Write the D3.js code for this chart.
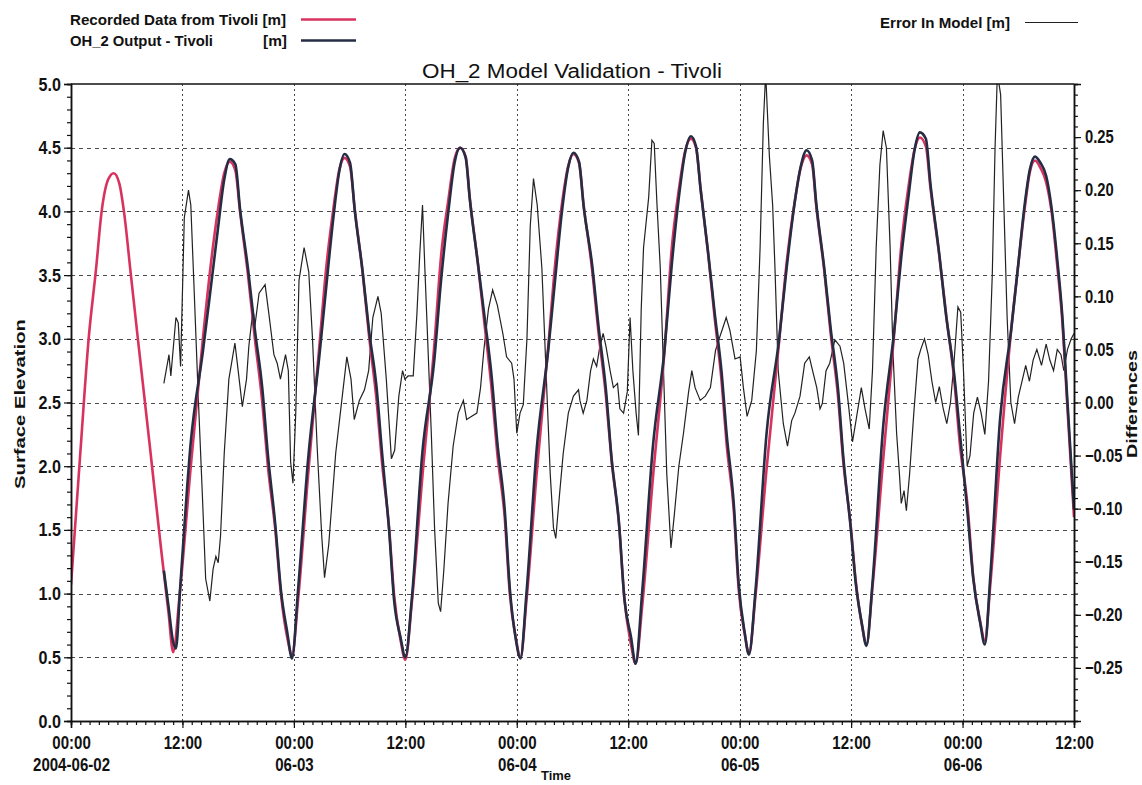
<!DOCTYPE html>
<html><head><meta charset="utf-8">
<script src="https://cdn.jsdelivr.net/npm/d3@7"></script>
<style>
html,body{margin:0;padding:0;background:#fff;}
svg{display:block;}
.nb{font-family:"Liberation Sans",Arial,sans-serif;font-weight:bold;}
</style></head><body>
<svg id="c" width="1142" height="785"></svg>
<script>
// ---------- DATA (hours since 2004-06-02 00:00) ----------
const recordedData = [
[0,1.07],[1.0,2.1],[1.9,3.0],[2.7,3.55],[3.3,4.0],[4.0,4.25],[4.6,4.30],
[5.2,4.22],[5.7,4.0],[6.45,3.5],[7.2,3.0],[8.5,2.15],[9.7,1.35],[10.5,0.85],[11.0,0.54],
[11.7,0.99],[12.9,2.0],[14.2,3.0],[15.0,3.55],[15.8,4.0],[16.5,4.3],[17.1,4.39],
[17.7,4.32],[18.2,4.0],[19.06,3.5],[19.8,3.0],[20.6,2.5],[21.2,2.0],[22.0,1.5],[22.6,1.0],[23.3,0.65],[23.8,0.52],
[24.45,0.95],[25.55,1.95],[26.75,2.95],[27.5,3.57],[28.25,4.02],[28.9,4.33],[29.45,4.42],
[30.05,4.35],[30.55,4.02],[31.4,3.52],[32.1,3.02],[32.9,2.52],[33.5,2.02],[34.25,1.52],[34.8,0.98],[35.5,0.63],[36.0,0.48],
[36.7,0.93],[37.85,1.93],[39.1,2.93],[39.85,3.65],[40.65,4.10],[41.3,4.41],[41.9,4.50],
[42.5,4.43],[42.95,4.10],[43.8,3.60],[44.55,3.10],[45.3,2.60],[45.9,2.10],[46.7,1.60],[47.25,1.00],[47.9,0.65],[48.4,0.50],
[49.05,0.95],[50.15,1.95],[51.4,2.95],[52.15,3.60],[52.85,4.05],[53.55,4.36],[54.1,4.45],
[54.7,4.38],[55.2,4.05],[56.1,3.55],[56.8,3.05],[57.6,2.55],[58.2,2.05],[59.0,1.55],[59.6,0.95],[60.3,0.60],[60.8,0.45],
[61.5,0.90],[62.65,1.90],[63.9,2.90],[64.7,3.72],[65.45,4.17],[66.15,4.48],[66.75,4.57],
[67.3,4.50],[67.8,4.17],[68.6,3.67],[69.3,3.17],[70.05,2.67],[70.6,2.17],[71.35,1.67],[71.9,1.03],[72.55,0.68],[73.0,0.53],
[73.7,0.98],[74.9,1.98],[76.25,2.98],[77.05,3.59],[77.85,4.04],[78.6,4.35],[79.2,4.44],
[79.8,4.37],[80.25,4.04],[81.1,3.54],[81.8,3.04],[82.6,2.54],[83.15,2.04],[83.95,1.54],[84.5,1.10],[85.17,0.75],[85.65,0.60],
[86.3,1.05],[87.45,2.05],[88.65,3.05],[89.4,3.73],[90.15,4.18],[90.85,4.49],[91.4,4.58],
[92.05,4.51],[92.55,4.18],[93.45,3.68],[94.25,3.18],[95.1,2.68],[95.7,2.18],[96.55,1.68],[97.15,1.13],[97.9,0.78],[98.4,0.63],
[99.0,1.08],[100.05,2.08],[101.25,3.08],[101.95,3.55],[102.65,4.00],[103.25,4.31],[103.8,4.40],
[104.4,4.34],[105.0,4.23],[105.6,3.99],[106.2,3.57],[106.7,3.18],[107.3,2.45],[108,1.6]
];
const modelData = [
[10.0,1.18],[10.5,0.90],[11.0,0.62],[11.3,0.57],[11.75,1.04],
[12.9,2.19],[14.2,2.90],[15.0,3.37],[15.8,3.85],[16.5,4.25],[17.1,4.41],
[17.7,4.37],[18.2,4.02],[19.06,3.55],[19.8,3.07],[20.6,2.61],[21.2,2.09],[22.0,1.54],[22.6,1.03],[23.3,0.69],[23.8,0.49],
[24.45,1.03],[25.55,2.07],[26.75,2.87],[27.5,3.42],[28.25,3.95],[28.9,4.32],[29.45,4.45],
[30.05,4.38],[30.55,4.01],[31.4,3.53],[32.1,3.06],[32.9,2.62],[33.5,2.10],[34.25,1.50],[34.8,0.94],[35.5,0.65],[36.0,0.50],
[36.7,0.96],[37.85,2.12],[39.1,2.82],[39.85,3.46],[40.65,4.01],[41.3,4.38],[41.9,4.50],
[42.5,4.42],[42.95,4.09],[43.8,3.60],[44.55,3.16],[45.3,2.70],[45.9,2.19],[46.7,1.66],[47.25,1.04],[47.9,0.64],[48.4,0.49],
[49.05,1.01],[50.15,2.14],[51.4,2.92],[52.15,3.48],[52.85,3.99],[53.55,4.35],[54.1,4.46],
[54.7,4.39],[55.2,4.04],[56.1,3.59],[56.8,3.10],[57.6,2.60],[58.2,2.07],[59.0,1.56],[59.6,0.95],[60.3,0.66],[60.8,0.45],
[61.5,1.01],[62.65,2.15],[63.9,2.91],[64.7,3.59],[65.45,4.11],[66.15,4.47],[66.75,4.59],
[67.3,4.51],[67.8,4.17],[68.6,3.68],[69.3,3.21],[70.05,2.74],[70.6,2.25],[71.35,1.72],[71.9,1.07],[72.55,0.69],[73.0,0.52],
[73.7,1.02],[74.9,2.26],[76.25,3.00],[77.05,3.55],[77.85,4.03],[78.6,4.36],[79.2,4.48],
[79.8,4.40],[80.25,4.06],[81.1,3.56],[81.8,3.08],[82.6,2.60],[83.15,2.08],[83.95,1.52],[84.5,1.08],[85.17,0.76],[85.65,0.59],
[86.3,1.08],[87.45,2.31],[88.65,3.07],[89.4,3.64],[90.15,4.10],[90.85,4.49],[91.4,4.62],
[92.05,4.57],[92.55,4.21],[93.45,3.69],[94.25,3.17],[95.1,2.72],[95.7,2.27],[96.55,1.62],[97.15,1.12],[97.9,0.77],[98.4,0.60],
[99.0,1.15],[100.05,2.38],[101.25,3.08],[101.95,3.55],[102.65,4.03],[103.25,4.33],[103.8,4.43],
[104.4,4.38],[105.0,4.28],[105.6,4.02],[106.2,3.62],[106.7,3.22],[107.3,2.5],[108,1.66]
];
const errorData = [
[10.0,0.018],[10.55,0.045],[10.75,0.025],[11.3,0.080],[11.55,0.075],[11.8,0.034],[12.2,0.174],[12.65,0.20],[12.9,0.186],
[13.25,0.108],[13.7,0.006],[14.15,-0.088],[14.5,-0.166],[14.95,-0.187],[15.3,-0.157],[15.6,-0.145],[15.85,-0.151],[16.1,-0.126],
[16.5,-0.048],[17.0,0.022],[17.65,0.056],[18.0,0.03],[18.45,-0.004],[18.9,0.022],[19.15,0.053],[19.6,0.088],[19.8,0.072],
[20.25,0.103],[20.9,0.111],[21.3,0.084],[21.85,0.045],[22.2,0.037],[22.55,0.022],[23.1,0.045],[23.4,0.03],[23.65,-0.056],
[23.9,-0.076],[24.2,-0.01],[24.55,0.115],[25.1,0.146],[25.6,0.123],[26.0,0.061],[26.5,-0.041],[27.0,-0.126],[27.3,-0.165],
[27.75,-0.134],[28.5,-0.048],[29.0,-0.01],[29.7,0.043],[30.15,0.022],[30.5,-0.016],[31.05,0.002],[31.6,0.012],[32.05,0.03],
[32.5,0.08],[33.05,0.10],[33.4,0.084],[33.95,0.022],[34.5,-0.053],[34.85,-0.045],[35.3,0.006],[35.7,0.03],[35.95,0.022],
[36.3,0.025],[36.85,0.025],[37.25,0.084],[37.55,0.139],[37.85,0.186],[38.1,0.127],[38.45,0.049],[38.8,-0.03],[39.15,-0.119],
[39.55,-0.189],[39.8,-0.197],[40.15,-0.157],[40.6,-0.095],[41.15,-0.041],[41.7,-0.01],[42.25,0.002],[42.6,-0.016],[43.15,-0.013],
[43.7,-0.01],[44.1,0.014],[44.45,0.049],[44.95,0.088],[45.4,0.106],[45.9,0.092],[46.5,0.065],[46.9,0.043],[47.45,0.037],
[47.7,0.022],[48.0,-0.029],[48.35,-0.01],[48.7,-0.002],[49.1,0.061],[49.45,0.166],[49.8,0.211],[50.2,0.186],[50.7,0.127],
[51.15,0.03],[51.6,-0.067],[51.95,-0.118],[52.2,-0.128],[52.6,-0.087],[53.0,-0.048],[53.55,-0.01],[54.1,0.006],[54.65,0.012],
[54.8,0.002],[55.15,-0.01],[55.55,0.002],[55.95,0.03],[56.25,0.041],[56.6,0.034],[56.95,0.053],[57.3,0.065],[57.6,0.053],
[58.05,0.03],[58.4,0.014],[58.85,0.018],[59.1,-0.006],[59.5,-0.01],[59.9,0.01],[60.2,0.08],[60.5,0.03],[60.85,-0.01],
[61.1,-0.031],[61.4,0.088],[61.65,0.146],[62.2,0.193],[62.55,0.247],[62.8,0.244],[63.1,0.186],[63.45,0.127],[63.8,0.03],
[64.15,-0.067],[64.6,-0.137],[64.95,-0.107],[65.45,-0.06],[65.95,-0.029],[66.5,0.01],[66.85,0.03],[67.2,0.014],[67.75,0.002],
[68.3,0.006],[68.85,0.014],[69.4,0.049],[69.75,0.059],[70.1,0.068],[70.55,0.08],[70.95,0.068],[71.5,0.041],[72.05,0.043],
[72.4,0.014],[72.8,-0.013],[73.3,0.002],[73.8,0.049],[74.2,0.146],[74.55,0.263],[74.8,0.31],[75.2,0.232],[75.55,0.186],
[75.8,0.127],[76.15,0.03],[76.7,-0.02],[77.15,-0.041],[77.6,-0.017],[77.95,-0.01],[78.5,0.006],[79.0,0.037],[79.5,0.043],
[79.85,0.03],[80.3,0.014],[80.65,-0.006],[80.9,-0.001],[81.3,0.03],[81.7,0.037],[82.25,0.059],[82.8,0.053],[83.2,0.037],
[83.7,-0.001],[84.15,-0.037],[84.6,-0.013],[85.1,0.014],[85.5,-0.006],[85.95,-0.025],[86.3,0.03],[86.7,0.146],[87.1,0.224],
[87.45,0.256],[87.8,0.24],[88.2,0.146],[88.5,0.049],[88.9,-0.029],[89.2,-0.067],[89.4,-0.095],[89.7,-0.083],[89.95,-0.102],
[90.3,-0.067],[90.75,-0.01],[91.2,0.041],[91.5,0.05],[91.9,0.06],[92.3,0.045],[92.7,0.02],[93.1,0.0],[93.5,0.015],
[93.9,-0.005],[94.3,-0.02],[94.7,0.0],[95.1,0.04],[95.5,0.09],[95.8,0.085],[96.1,0.03],[96.5,-0.06],[96.8,-0.05],
[97.2,-0.01],[97.6,0.005],[98.0,-0.01],[98.4,-0.03],[98.8,0.02],[99.2,0.12],[99.5,0.24],[99.75,0.31],[100.1,0.29],
[100.4,0.2],[100.8,0.08],[101.2,0.0],[101.6,-0.02],[102.0,0.005],[102.4,0.02],[102.8,0.035],[103.2,0.02],[103.6,0.04],
[104.0,0.05],[104.5,0.035],[105.0,0.055],[105.4,0.04],[105.8,0.03],[106.2,0.05],[106.6,0.045],[106.9,0.03],[107.3,0.05],
[107.7,0.06],[108.0,0.065]
];
const xTickHours = [0,12,24,36,48,60,72,84,96,108];
const xTickTimes = ["00:00","12:00","00:00","12:00","00:00","12:00","00:00","12:00","00:00","12:00"];
const xTickDates = ["2004-06-02","","06-03","","06-04","","06-05","","06-06",""];
const yLeftTicks = [0,0.5,1,1.5,2,2.5,3,3.5,4,4.5,5];
const yRightTicks = [-0.25,-0.2,-0.15,-0.1,-0.05,0,0.05,0.1,0.15,0.2,0.25];
const legendLabels = ["Recorded Data from Tivoli [m]","OH_2 Output - Tivoli","[m]","Error In Model [m]"];

// ---------- LAYOUT ----------
const L=71,R=1074,T=84,B=721;
const svg=d3.select("#c");
const x=d3.scaleLinear().domain([0,108]).range([L,R]);
const yL=d3.scaleLinear().domain([0,5]).range([B,T]);
const yR=d3.scaleLinear().domain([-0.3,0.3]).range([B,T]);
const RED="#d8325f", NAVY="#252d44";

function squeeze(sel,f){sel.each(function(){const w=this.getComputedTextLength();
  d3.select(this).attr("textLength",w*f).attr("lengthAdjust","spacingAndGlyphs");});}
function fitLen(sel,len){sel.attr("textLength",len).attr("lengthAdjust","spacingAndGlyphs");}

svg.append("defs").append("clipPath").attr("id","clip")
  .append("rect").attr("x",L).attr("y",T).attr("width",R-L).attr("height",B-T);

// gridlines
const grid=svg.append("g").attr("stroke","#4a4a4a").attr("stroke-width",1).attr("stroke-dasharray","4,4");
grid.selectAll("line.h").data(yLeftTicks.filter(d=>d>0&&d<5)).join("line")
  .attr("x1",L).attr("x2",R).attr("y1",d=>Math.round(yL(d))+0.5).attr("y2",d=>Math.round(yL(d))+0.5);
grid.selectAll("line.v").data(xTickHours.filter(d=>d>0&&d<108)).join("line")
  .attr("y1",T).attr("y2",B).attr("x1",d=>Math.round(x(d))+0.5).attr("x2",d=>Math.round(x(d))+0.5)
  .attr("stroke-dasharray","2,3");

// lines
const lineL=d3.line().x(d=>x(d[0])).y(d=>yL(d[1])).curve(d3.curveMonotoneX);
const lineR=d3.line().x(d=>x(d[0])).y(d=>yR(d[1]));
const plot=svg.append("g").attr("clip-path","url(#clip)");
plot.append("path").datum(errorData).attr("d",lineR).attr("fill","none").attr("stroke","#222").attr("stroke-width",1.2);
plot.append("path").datum(recordedData).attr("d",lineL).attr("fill","none").attr("stroke",RED).attr("stroke-width",2.6);
plot.append("path").datum(modelData).attr("d",lineL).attr("fill","none").attr("stroke",NAVY).attr("stroke-width",2.6);

// axes
function styleAxis(g){g.selectAll("path.domain").attr("stroke","#111").attr("stroke-width",1.5);
  g.selectAll(".tick line").attr("stroke","#111").attr("stroke-width",1.2);}
const minorL=d3.range(0,5.001,0.1), minorR=d3.range(-0.3,0.3001,0.01), minorX=d3.range(0,108.5,1);
svg.append("g").attr("transform",`translate(${L},0)`).call(d3.axisLeft(yL).tickValues(minorL).tickSize(4).tickFormat("")).call(styleAxis);
svg.append("g").attr("transform",`translate(${R},0)`).call(d3.axisRight(yR).tickValues(minorR).tickSize(4).tickFormat("")).call(styleAxis);
svg.append("g").attr("transform",`translate(0,${B})`).call(d3.axisBottom(x).tickValues(minorX).tickSize(4).tickFormat("")).call(styleAxis);

const axL=svg.append("g").attr("transform",`translate(${L},0)`).call(d3.axisLeft(yL).tickValues(yLeftTicks).tickSize(7).tickPadding(3).tickFormat(d3.format(".1f"))).call(styleAxis);
const axR=svg.append("g").attr("transform",`translate(${R},0)`).call(d3.axisRight(yR).tickValues(yRightTicks).tickSize(7).tickPadding(4).tickFormat(d3.format(".2f"))).call(styleAxis);
const axB=svg.append("g").attr("transform",`translate(0,${B})`).call(d3.axisBottom(x).tickValues(xTickHours).tickSize(7).tickPadding(9).tickFormat((d,i)=>xTickTimes[i])).call(styleAxis);
axL.selectAll("text").attr("class","nb").attr("font-size",19).attr("fill","#111");
axR.selectAll("text").attr("class","nb").attr("font-size",18).attr("fill","#111");
axB.selectAll("text").attr("class","nb").attr("font-size",17.5).attr("fill","#111");
axB.selectAll(".tick").append("text").attr("class","nb").attr("font-size",17.5).attr("fill","#111")
  .attr("text-anchor","middle").attr("y",50).text((d,i)=>xTickDates[i]);
squeeze(axL.selectAll("text"),0.85);
squeeze(axR.selectAll("text"),0.82);
squeeze(axB.selectAll("text"),0.86);
// top frame
svg.append("line").attr("x1",L).attr("x2",R).attr("y1",T).attr("y2",T).attr("stroke","#111").attr("stroke-width",1.5);

// titles
fitLen(svg.append("text").attr("x",572).attr("y",78).attr("text-anchor","middle")
  .attr("font-family","Liberation Sans, Arial, sans-serif").attr("font-size",20).attr("fill","#111")
  .text("OH_2 Model Validation - Tivoli"),300);
fitLen(svg.append("text").attr("class","nb").attr("font-size",15).attr("fill","#111")
  .attr("transform","translate(25,404) rotate(-90)").attr("text-anchor","middle").text("Surface Elevation"),170);
fitLen(svg.append("text").attr("class","nb").attr("font-size",14).attr("fill","#111")
  .attr("transform","translate(1137,404) rotate(-90)").attr("text-anchor","middle").text("Differences"),108);
fitLen(svg.append("text").attr("class","nb").attr("font-size",13).attr("fill","#111")
  .attr("x",556).attr("y",780).attr("text-anchor","middle").text("Time"),30);

// legend
const lg=svg.append("g").attr("class","nb").attr("font-size",15).attr("fill","#111");
fitLen(lg.append("text").attr("x",70).attr("y",25).text(legendLabels[0]),216);
fitLen(lg.append("text").attr("x",70).attr("y",46).text(legendLabels[1]),143);
fitLen(lg.append("text").attr("x",263).attr("y",46).text(legendLabels[2]),24);
fitLen(lg.append("text").attr("x",880).attr("y",28).text(legendLabels[3]),130);
svg.append("line").attr("x1",301).attr("x2",356).attr("y1",19.5).attr("y2",19.5).attr("stroke",RED).attr("stroke-width",2.5);
svg.append("line").attr("x1",301).attr("x2",356).attr("y1",40.5).attr("y2",40.5).attr("stroke",NAVY).attr("stroke-width",2.5);
svg.append("line").attr("x1",1025).attr("x2",1078).attr("y1",22.5).attr("y2",22.5).attr("stroke","#222").attr("stroke-width",1.2);
</script></body></html>
